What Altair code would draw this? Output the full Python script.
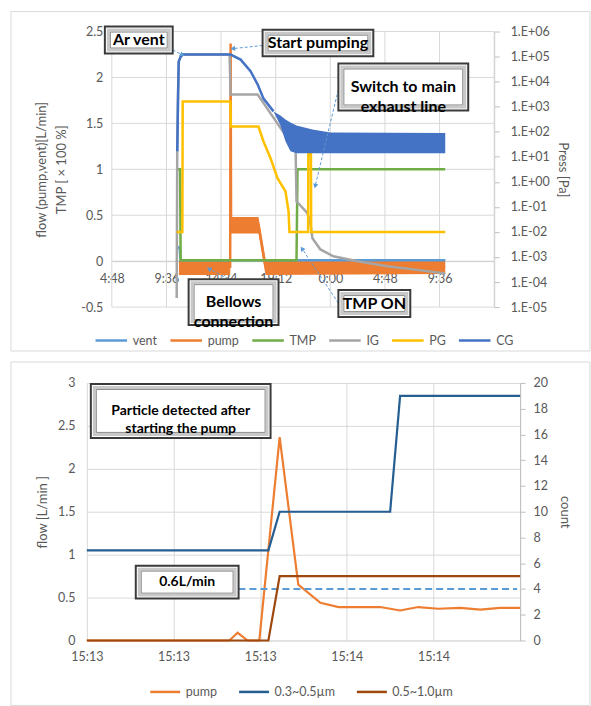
import altair as alt
import pandas as pd

FONT = "Lato"
TXT = "#595959"
GRID = "#D9D9D9"
AXLINE = "#BFBFBF"
ARROW = "#5B9BD5"

# ---------------- top panel: pump-down record ----------------
top_series = ["vent", "pump", "TMP", "IG", "PG", "CG"]
top_colors = ["#5B9BD5", "#ED7D31", "#70AD47", "#A5A5A5", "#FFC000", "#4472C4"]

hour_ticks = [4.8, 9.6, 14.4, 19.2, 24.0, 28.8, 33.6, 38.4]
hour_labels = ["4:48", "9:36", "14:24", "19:12", "0:00", "4:48", "9:36", ""]
flow_ticks = [-0.5, 0, 0.5, 1, 1.5, 2, 2.5]
flow_labels = ["-0.5", "0", "0.5", "1", "1.5", "2", "2.5"]
press_ticks = [1e-5, 1e-4, 1e-3, 1e-2, 1e-1, 1e0, 1e1, 1e2, 1e3, 1e4, 1e5, 1e6]
press_labels = ["1.E-05", "1.E-04", "1.E-03", "1.E-02", "1.E-01", "1.E+00",
                "1.E+01", "1.E+02", "1.E+03", "1.E+04", "1.E+05", "1.E+06"]

# time in hours counted from midnight of the first day
vent_t = [10.55, 10.76, 10.85, 34.10]
vent_v = [0.15, 0.15, 0.01, 0.01]

tmp_t = [10.55, 10.80, 10.85, 21.03, 21.12, 34.10]
tmp_v = [1.0, 1.0, 0.01, 0.01, 1.0, 1.0]

pump_t = [10.70, 15.20, 15.24, 15.28, 17.69, 18.31, 34.10]
pump_v = [-0.06, -0.06, 2.37, 0.40, 0.40, -0.06, -0.06]
# scatter of the pump flow reading (min / max envelope)
pump_band_t = [10.70, 15.20, 15.28, 17.69, 18.31, 34.10]
pump_lo = [-0.15, -0.15, 0.30, 0.30, -0.15, -0.14]
pump_hi = [0.01, 0.01, 0.48, 0.48, 0.01, 0.02]

ig_t = [10.50, 10.55, 10.62, 10.68, 10.85, 11.03, 15.15, 15.24, 17.61, 20.24,
        20.95, 21.03, 21.99, 22.26, 22.43, 23.13, 24.27, 26.38, 29.01, 31.29, 34.10]
ig_p = [2.3e-5, 16.6, 2.6e3, 6.3e4, 1.0e5, 1.2e5, 1.2e5, 3.1e3, 3.1e3, 55,
        22, 0.167, 0.056, 0.020, 5.6e-3, 2.0e-3, 1.07e-3, 6.8e-4, 4.3e-4, 3.2e-4, 2.2e-4]

pg_t = [10.50, 11.00, 11.03, 15.22, 15.26, 17.69, 18.13, 18.75, 19.36, 20.06,
        20.33, 20.41, 22.05, 22.07, 22.30, 22.32, 34.10]
pg_p = [1e-2, 1e-2, 1.6e3, 1.6e3, 162, 162, 41, 8.7, 1.4, 0.42,
        0.067, 1e-2, 1e-2, 12.6, 12.6, 1e-2, 1e-2]

cg_t = [10.55, 10.62, 10.68, 10.85, 11.03, 15.24, 16.12, 16.99, 17.61, 18.13, 19.01]
cg_p = [16.6, 2.6e3, 6.3e4, 1.0e5, 1.2e5, 1.2e5, 7.6e4, 2.6e4, 7.8e3, 2.1e3, 650]
# scatter of the convectron gauge reading once pumping settles
cg_band_t = [19.01, 19.62, 20.06, 20.50, 21.03, 22.43, 24.01, 34.10]
cg_lo = [650, 178, 42, 16.6, 13.8, 13.8, 13.8, 13.8]
cg_hi = [650, 450, 310, 235, 178, 123, 93, 90]

top_notes = ["Ar vent", "Start pumping", "Switch to main\nexhaust line", "TMP ON", "Bellows\nconnection"]
top_note_x1 = [4.19, 18.05, 24.71, 24.71, 11.55]
top_note_x2 = [10.15, 27.78, 36.12, 31.03, 19.45]
top_note_y1 = [2.261, 2.23, 1.641, -0.609, -0.696]
top_note_y2 = [2.554, 2.52, 2.152, -0.315, -0.196]
top_arrow_from_x = [10.15, 18.05, 24.71, 24.71, 15.41]
top_arrow_from_y = [2.30, 2.348, 1.87, -0.457, -0.217]
top_arrow_to_x = [10.94, 15.50, 22.69, 21.55, 13.40]
top_arrow_to_y = [2.25, 2.315, 0.826, 0.130, -0.087]
top_arrow_angle = [119, 264, 193, 326, 298]

# ---------------- bottom panel: particle counter ----------------
bot_series = ["pump", "0.3~0.5µm", "0.5~1.0µm"]
bot_colors = ["#ED7D31", "#255E91", "#9E480E"]

sec_ticks = [0, 20, 40, 60, 80, 100]
sec_labels = ["15:13", "15:13", "15:13", "15:14", "15:14", ""]
bflow_ticks = [0, 0.5, 1, 1.5, 2, 2.5, 3]
count_ticks = [0, 2, 4, 6, 8, 10, 12, 14, 16, 18, 20]

pump_s = [0, 32.9, 34.8, 37.1, 39.8, 44.5, 48.8, 53.9, 58.1, 62.7, 67.7, 72.3,
          76.5, 81.1, 86.2, 90.8, 95.4, 100]
pump_f = [0, 0, 0.09, 0, 0, 2.37, 0.65, 0.44, 0.39, 0.39, 0.39, 0.35,
          0.39, 0.37, 0.38, 0.36, 0.38, 0.38]
count_s = [0, 41.9, 44.5, 70.0, 72.3, 100]
count_03 = [7, 7, 10, 10, 19, 19]
count_05 = [0, 0, 5, 5, 5, 5]

ref_flow = 0.6
ref_from, ref_to = 35.0, 99.3

bot_notes = ["Particle detected after\nstarting the pump", "0.6L/min"]
bot_note_x1 = [0.92, 11.29]
bot_note_x2 = [42.4, 35.02]
bot_note_y1 = [2.36, 0.488]
bot_note_y2 = [2.988, 0.872]

# both panels share one plot origin; the top time axis starts 25 px in
PANEL_W = 434
TOP_X0, TOP_X1 = 25, 408


def js_list(items):
    return "[" + ",".join("'" + s + "'" for s in items) + "]"


def long_df(names, ts, vs, key):
    rows = []
    for name, t, v in zip(names, ts, vs):
        for i, (a, b) in enumerate(zip(t, v)):
            rows.append({"series": name, "t": a, key: b, "i": i})
    return pd.DataFrame(rows)


def frame(y0, y1):
    return alt.Chart(pd.DataFrame({"k": [0]})).mark_rect(
        fillOpacity=0, stroke=GRID, strokeWidth=1
    ).encode(x=alt.value(-76), x2=alt.value(504), y=alt.value(y0), y2=alt.value(y1))


def note_layers(df, xs, x_axis, ys, size):
    enc = dict(x=alt.X("x1:Q", scale=xs, axis=x_axis), x2="x2:Q",
               y=alt.Y("y1:Q", scale=ys, axis=None), y2="y2:Q")
    outer = alt.Chart(df).mark_rect(fill="white", stroke="#3A3A3A", strokeWidth=2).encode(**enc)
    bevel = alt.Chart(df).mark_rect(
        fillOpacity=0, stroke="#C8C8C8", strokeWidth=3,
        xOffset=3.5, x2Offset=-3.5, yOffset=-3.5, y2Offset=3.5).encode(**enc)
    inner = alt.Chart(df).mark_rect(
        fillOpacity=0, stroke="#8C8C8C", strokeWidth=1,
        xOffset=5.5, x2Offset=-5.5, yOffset=-5.5, y2Offset=5.5).encode(**enc)
    text = alt.Chart(df).transform_calculate(
        tx="(datum.x1 + datum.x2) / 2", ty="(datum.y1 + datum.y2) / 2"
    ).mark_text(font=FONT, fontWeight="bold", fontSize=size, color="black",
                lineBreak="\n", lineHeight=size + 4, align="center", baseline="middle"
    ).encode(x=alt.X("tx:Q", scale=xs, axis=x_axis), y=alt.Y("ty:Q", scale=ys, axis=None),
             text="label:N")
    return [outer, bevel, inner, text]


def series_legend(x, y, size, pad):
    return alt.Legend(
        title=None, orient="none", legendX=x, legendY=y, direction="horizontal",
        symbolType="stroke", symbolSize=size, symbolStrokeWidth=2.5,
        labelFont=FONT, labelFontSize=12.5, labelColor=TXT, labelOffset=4, columnPadding=pad)


# ---------------- build top panel ----------------
X_TOP = alt.Scale(domain=[4.8, 38.4], range=[TOP_X0, TOP_X1], nice=False, zero=False)
Y_FLOW = alt.Scale(domain=[-0.5, 2.5], nice=False, zero=False)
Y_PRESS = alt.Scale(type="log", domain=[1e-5, 1e6], nice=False)
C_TOP = alt.Scale(domain=top_series, range=top_colors)

left_df = long_df(["vent", "pump", "TMP"], [vent_t, pump_t, tmp_t], [vent_v, pump_v, tmp_v], "v")
igpg_df = long_df(["IG", "PG"], [ig_t, pg_t], [ig_p, pg_p], "p")
cg_df = long_df(["CG"], [cg_t], [cg_p], "p")
pump_band_df = pd.DataFrame({"t": pump_band_t, "lo": pump_lo, "hi": pump_hi})
cg_band_df = pd.DataFrame({"t": cg_band_t, "lo": cg_lo, "hi": cg_hi})

top_x_axis = alt.Axis(values=hour_ticks, labelExpr=js_list(hour_labels) + "[round((datum.value - 4.8) / 4.8)]",
                      offset=-46, grid=False, ticks=False, domain=True, domainColor=AXLINE,
                      labelPadding=11, title="", labelFlush=False)
top_y_axis = alt.Axis(values=flow_ticks, labelExpr=js_list(flow_labels) + "[round((datum.value + 0.5) * 2)]",
                      offset=-TOP_X0, grid=False, ticks=False, domain=False, labelPadding=9,
                      title=["flow  (pump,vent)[L/min]", "TMP [ × 100 %]"], titleLineHeight=20,
                      titlePadding=12)
top_p_axis = alt.Axis(orient="right", values=press_ticks, offset=TOP_X1 - PANEL_W,
                      labelExpr=js_list(press_labels) + "[round(log(datum.value) / LN10) + 5]",
                      grid=False, ticks=True, tickSize=5, tickColor=AXLINE, domain=True, domainColor=AXLINE,
                      labelPadding=11, title="Press [Pa]", titlePadding=6)


def xt(field):
    return alt.X(field, scale=X_TOP, axis=top_x_axis)


def yf(field):
    return alt.Y(field, scale=Y_FLOW, axis=top_y_axis)


def yp(field):
    return alt.Y(field, scale=Y_PRESS, axis=top_p_axis)


top_left = alt.layer(
    frame(-20, 320),
    alt.Chart(pd.DataFrame({"t": hour_ticks})).mark_rule(color=GRID).encode(x=xt("t:Q")),
    alt.Chart(pd.DataFrame({"v": flow_ticks, "a": 4.8, "b": 38.4})).mark_rule(color=GRID).encode(
        x=xt("a:Q"), x2="b:Q", y=yf("v:Q")),
    alt.Chart(pump_band_df).mark_area(color="#ED7D31").encode(x=xt("t:Q"), y=yf("lo:Q"), y2="hi:Q"),
    alt.Chart(left_df).mark_line(strokeWidth=2.5).encode(
        x=xt("t:Q"), y=yf("v:Q"),
        color=alt.Color("series:N", scale=C_TOP, legend=series_legend(7, 292, 1000, 7)),
        order="i:Q"),
)

top_right = alt.layer(
    alt.Chart(igpg_df).mark_line(strokeWidth=2.5).encode(
        x=xt("t:Q"), y=yp("p:Q"),
        color=alt.Color("series:N", scale=C_TOP, legend=None), order="i:Q"),
    alt.Chart(cg_band_df).mark_area(color="#4472C4").encode(x=xt("t:Q"), y=yp("lo:Q"), y2="hi:Q"),
    alt.Chart(cg_df).mark_line(strokeWidth=2.5).encode(
        x=xt("t:Q"), y=yp("p:Q"),
        color=alt.Color("series:N", scale=C_TOP, legend=None), order="i:Q"),
)

top_note_df = pd.DataFrame({"label": top_notes, "x1": top_note_x1, "x2": top_note_x2,
                            "y1": top_note_y1, "y2": top_note_y2})
top_arrow_df = pd.DataFrame({"x1": top_arrow_from_x, "y1": top_arrow_from_y,
                             "x2": top_arrow_to_x, "y2": top_arrow_to_y, "ang": top_arrow_angle})
Y_NOTE_TOP = alt.Scale(domain=[-0.5, 2.5], nice=False, zero=False)
top_notes_layer = alt.layer(
    alt.Chart(top_arrow_df).mark_rule(color=ARROW, strokeWidth=1, strokeDash=[3, 2]).encode(
        x=xt("x1:Q"), y=alt.Y("y1:Q", scale=Y_NOTE_TOP, axis=None), x2="x2:Q", y2="y2:Q"),
    alt.Chart(top_arrow_df).mark_point(shape="triangle", filled=True, size=28, color=ARROW, opacity=1).encode(
        x=xt("x2:Q"), y=alt.Y("y2:Q", scale=Y_NOTE_TOP, axis=None),
        angle=alt.Angle("ang:Q", scale=None)),
    *note_layers(top_note_df, X_TOP, top_x_axis, Y_NOTE_TOP, 16),
)

top = alt.layer(top_left, top_right, top_notes_layer).resolve_scale(y="independent").properties(
    width=PANEL_W, height=276)

# ---------------- build bottom panel ----------------
X_BOT = alt.Scale(domain=[0, 100], nice=False, zero=False)
Y_BFLOW = alt.Scale(domain=[0, 3], nice=False, zero=False)
Y_COUNT = alt.Scale(domain=[0, 20], nice=False, zero=False)
C_BOT = alt.Scale(domain=bot_series, range=bot_colors)

pump_df = long_df(["pump"], [pump_s], [pump_f], "v")
count_df = long_df(["0.3~0.5µm", "0.5~1.0µm"], [count_s, count_s], [count_03, count_05], "c")

bot_x_axis = alt.Axis(values=sec_ticks, labelExpr=js_list(sec_labels) + "[round(datum.value / 20)]",
                      grid=True, gridColor=GRID, ticks=False, domain=True, domainColor=GRID,
                      labelPadding=10, title="", labelFlush=False)
bot_y_axis = alt.Axis(values=bflow_ticks, format="~g", grid=True, gridColor=GRID, ticks=False,
                      domain=False, labelPadding=12, title="flow [L/min ]", titlePadding=8)
bot_c_axis = alt.Axis(orient="right", values=count_ticks, grid=False, ticks=True, tickSize=5,
                      tickColor=AXLINE, domain=True, domainColor=AXLINE, labelPadding=8,
                      title="count", titlePadding=10)


def xb(field):
    return alt.X(field, scale=X_BOT, axis=bot_x_axis)


bot_left = alt.layer(
    frame(-21, 323),
    alt.Chart(pump_df).mark_line(strokeWidth=2.2).encode(
        x=xb("t:Q"), y=alt.Y("v:Q", scale=Y_BFLOW, axis=bot_y_axis),
        color=alt.Color("series:N", scale=C_BOT, legend=series_legend(62, 293, 900, 16)),
        order="i:Q"),
    alt.Chart(pd.DataFrame({"a": [ref_from], "b": [ref_to], "f": [ref_flow]})).mark_rule(
        color=ARROW, strokeWidth=2, strokeDash=[7, 4]).encode(
        x=xb("a:Q"), x2="b:Q", y=alt.Y("f:Q", scale=Y_BFLOW, axis=bot_y_axis)),
)

bot_right = alt.layer(
    alt.Chart(count_df).mark_line(strokeWidth=2.2).encode(
        x=xb("t:Q"), y=alt.Y("c:Q", scale=Y_COUNT, axis=bot_c_axis),
        color=alt.Color("series:N", scale=C_BOT, legend=None), order="i:Q"),
)

bot_note_df = pd.DataFrame({"label": bot_notes, "x1": bot_note_x1, "x2": bot_note_x2,
                            "y1": bot_note_y1, "y2": bot_note_y2})
Y_NOTE_BOT = alt.Scale(domain=[0, 3], nice=False, zero=False)
bot_notes_layer = alt.layer(*note_layers(bot_note_df, X_BOT, bot_x_axis, Y_NOTE_BOT, 14))

bottom = alt.layer(bot_left, bot_right, bot_notes_layer).resolve_scale(y="independent").properties(
    width=PANEL_W, height=258)

chart = alt.vconcat(top, bottom, spacing=9).resolve_scale(color="independent").properties(
    padding={"left": 10, "top": 10, "right": 0, "bottom": 0}, background="white"
).configure_view(strokeWidth=0).configure_axis(
    labelFont=FONT, titleFont=FONT, labelFontSize=12.5, titleFontSize=13,
    labelColor=TXT, titleColor=TXT, titleFontWeight="normal"
)

chart.save("out.html", embed_options={"renderer": "svg", "actions": False})
